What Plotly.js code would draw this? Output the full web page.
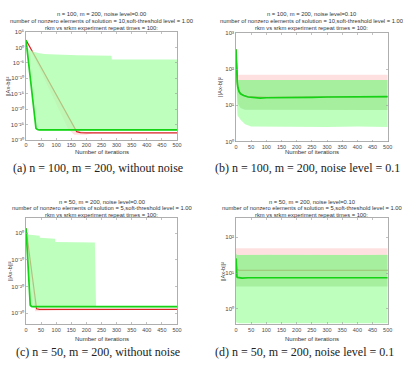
<!DOCTYPE html>
<html>
<head>
<meta charset="utf-8">
<script src="https://cdn.plot.ly/plotly-3.0.1.min.js"></script>
<style>
  html, body { margin: 0; padding: 0; background: #fff; }
  #fig { width: 403px; height: 368px; }
</style>
</head>
<body>
<div id="fig"></div>
<script>
// ---------------- data: mean residual ||Ax-b||^2 with min/max and spread envelopes ----------------
// (a) n = 100, m = 200, noise 0.00
const iterA_srkm = [0, 33, 38, 45, 100, 200, 300, 400, 500];
const valA_srkm  = [2.5e2, 6e-27, 2.5e-27, 1.8e-27, 1.8e-27, 1.7e-27, 1.8e-27, 1.8e-27, 1.8e-27];
const iterA_rkm  = [0, 168, 180, 200, 300, 400, 500];
const valA_rkm   = [2.5e2, 5e-28, 2.5e-28, 2e-28, 2e-28, 2e-28, 2e-28];
const iterA_srkmHi = [0, 3, 8, 15, 25, 40, 60, 100, 170, 283, 284, 500];
const valA_srkmHi  = [3e2, 3e0, 2.5e-1, 1e-1, 4e-2, 1.6e-2, 8e-3, 5e-3, 2.8e-3, 2e-3, 1.3e-4, 1.3e-4];
const iterA_srkmLo = [0, 33, 40, 500];
const valA_srkmLo  = [2e2, 3e-27, 1e-27, 1e-27];
const iterA_rkmHi = [0, 168, 200, 500];
const valA_rkmHi  = [3e2, 1.5e-27, 3e-28, 2.5e-28];
const iterA_rkmLo = [0, 140, 160, 200, 220, 500];
const valA_rkmLo  = [2e2, 3e-27, 5e-29, 5e-29, 1.6e-28, 1.6e-28];

// (b) n = 100, m = 200, noise 0.10
const iterB_srkm = [0, 1, 2, 4, 6, 10, 15, 25, 40, 60, 80, 100, 150, 200, 250, 300, 350, 400, 450, 500];
const valB_srkm  = [355, 158, 89, 44.7, 31.6, 24, 20.9, 18.6, 17, 16.2, 15.8, 16.2, 16.2, 16.6, 16.6, 17, 17, 17, 17, 17.4];
const iterB_rkm  = [0, 2, 5, 10, 20, 40, 100, 200, 300, 400, 500];
const valB_rkm   = [350, 92, 36, 24, 19.5, 17.3, 16.5, 16.9, 17.2, 17.2, 17.5];
const iterB_srkmHi = [0, 1, 3, 5, 10, 20, 50, 100, 200, 300, 400, 500];
const valB_srkmHi  = [400, 160, 71, 52, 50, 50, 50, 50, 50, 50, 50, 50];
const iterB_srkmLo = [0, 1, 3, 5, 15, 30, 50, 100, 200, 300, 400, 500];
const valB_srkmLo  = [316, 79, 10, 5.2, 4.0, 3.0, 2.6, 2.6, 2.5, 2.5, 2.6, 2.5];
const iterB_srkmSdHi = [0, 1, 3, 6, 500];
const valB_srkmSdHi  = [380, 150, 65, 50, 50];
const iterB_srkmSdLo = [0, 1, 3, 6, 15, 30, 500];
const valB_srkmSdLo  = [330, 100, 22, 11, 8.5, 7.5, 7.4];
const iterB_rkmHi = [0, 1, 3, 6, 500];
const valB_rkmHi  = [420, 180, 80, 70, 70];
const iterB_rkmLo = [0, 1, 3, 6, 15, 30, 500];
const valB_rkmLo  = [330, 100, 22, 11, 8.5, 7.5, 7.4];

// (c) n = 50, m = 200, noise 0.00
const iterC_srkm = [0, 14, 18, 25, 500];
const valC_srkm  = [80, 1.3e-27, 4e-28, 3.2e-28, 3.2e-28];
const iterC_rkm  = [0, 35, 45, 500];
const valC_rkm   = [80, 5e-29, 3.2e-29, 3.2e-29];
const iterC_srkmHi = [0, 2, 5, 45, 46, 96, 97, 228, 232, 500];
const valC_srkmHi  = [126, 3.2, 0.32, 0.126, 0.02, 0.01, 5e-4, 3.2e-4, 6.3e-28, 6.3e-28];
const iterC_srkmLo = [0, 14, 18, 500];
const valC_srkmLo  = [80, 6.3e-28, 1.6e-28, 1.6e-28];
const iterC_rkmHi = [0, 35, 45, 500];
const valC_rkmHi  = [100, 8e-29, 4.5e-29, 4.5e-29];
const iterC_rkmLo = [0, 30, 60, 110, 130, 500];
const valC_rkmLo  = [63, 6.3e-30, 8e-30, 1.26e-29, 2.2e-29, 2.2e-29];

// (d) n = 50, m = 200, noise 0.10
const iterD_srkm = [0, 1, 2, 3, 5, 10, 20, 40, 70, 100, 150, 200, 250, 300, 350, 400, 450, 500];
const valD_srkm  = [25.7, 12.6, 8.5, 7.9, 7.6, 7.4, 7.2, 7.4, 7.4, 7.4, 7.2, 7.4, 7.4, 7.4, 7.2, 7.4, 7.4, 7.4];
const iterD_rkm  = [0, 1, 3, 10, 100, 200, 300, 400, 500];
const valD_rkm   = [26, 16, 12.5, 12, 12, 12, 12.2, 12, 12];
const iterD_srkmHi = [0, 1, 3, 100, 200, 300, 400, 500];
const valD_srkmHi  = [36, 33, 32, 32.4, 32, 32.4, 32, 32.4];
const iterD_srkmLo = [0, 1, 3, 10, 500];
const valD_srkmLo  = [0.45, 0.42, 0.41, 0.40, 0.40];
const iterD_srkmSdHi = [0, 1, 3, 500];
const valD_srkmSdHi  = [34, 32.4, 32, 32];
const iterD_srkmSdLo = [0, 500];
const valD_srkmSdLo  = [4.2, 4.2];
const iterD_rkmHi = [0, 500];
const valD_rkmHi  = [49, 49];
const iterD_rkmLo = [0, 500];
const valD_rkmLo  = [4.2, 4.2];

// ---------------- text ----------------
const titlesA = ["n = 100, m = 200, noise level=0.00",
                 "number of nonzero elements of solution = 10,soft-threshold level = 1.00",
                 "rkm vs srkm experiment repeat times = 100:"];
const titlesB = ["n = 100, m = 200, noise level=0.10",
                 "number of nonzero elements of solution = 10,soft-threshold level = 1.00",
                 "rkm vs srkm experiment repeat times = 100:"];
const titlesC = ["n = 50, m = 200, noise level=0.00",
                 "number of nonzero elements of solution = 5,soft-threshold level = 1.00",
                 "rkm vs srkm experiment repeat times = 100:"];
const titlesD = ["n = 50, m = 200, noise level=0.10",
                 "number of nonzero elements of solution = 5,soft-threshold level = 1.00",
                 "rkm vs srkm experiment repeat times = 100:"];
const captions = ["(a) n = 100, m = 200, without noise",
                  "(b) n = 100, m = 200, noise level = 0.1",
                  "(c) n = 50, m = 200, without noise",
                  "(d) n = 50, m = 200, noise level = 0.1"];
const xTitle = "Number of iterations";
const yTitle = "||Ax-b||\u00b2";
const xTicks = [0, 50, 100, 150, 200, 250, 300, 350, 400, 450, 500];
const yExpA = [5, 0, -5, -10, -15, -20, -25, -30];
const yExpB = [0, 1, 2, 3];
const yExpC = [0, -10, -20, -30];
const yExpD = [0, 1, 2];

// power-of-ten label with superscript characters
const SUP = {'0': '\u2070', '1': '\u00b9', '2': '\u00b2', '3': '\u00b3', '4': '\u2074', '5': '\u2075',
             '6': '\u2076', '7': '\u2077', '8': '\u2078', '9': '\u2079', '-': '\u207b'};
const pow10Label = e => '10' + String(e).split('').map(c => SUP[c]).join('');

// ---------------- layout helpers (pixel boxes -> paper fractions) ----------------
const W = 403, H = 368;
const fx = p => p / W;
const fy = p => 1 - p / H;

const panels = [
  {box: [26, 177, 32, 140],    yr: [-30, 5],       exps: yExpA, titles: titlesA, tY: [14, 21, 28],        xtY: 152, ytX: 7.5,  cap: captions[0], capX: 98,  capY: 168,
   d: {s: [iterA_srkm, valA_srkm], r: [iterA_rkm, valA_rkm], sh: [iterA_srkmHi, valA_srkmHi], sl: [iterA_srkmLo, valA_srkmLo], rh: [iterA_rkmHi, valA_rkmHi], rl: [iterA_rkmLo, valA_rkmLo]}},
  {box: [236, 387.7, 33, 141.5], yr: [0, 3],       exps: yExpB, titles: titlesB, tY: [14, 21, 28],        xtY: 152, ytX: 220.7, cap: captions[1], capX: 307.7, capY: 168,
   d: {s: [iterB_srkm, valB_srkm], r: [iterB_rkm, valB_rkm], sh: [iterB_srkmHi, valB_srkmHi], sl: [iterB_srkmLo, valB_srkmLo], rh: [iterB_rkmHi, valB_rkmHi], rl: [iterB_rkmLo, valB_rkmLo],
       qh: [iterB_srkmSdHi, valB_srkmSdHi], ql: [iterB_srkmSdLo, valB_srkmSdLo]}},
  {box: [26, 177, 218.3, 324.3], yr: [-34.1, 5.62], exps: yExpC, titles: titlesC, tY: [201.7, 208.3, 215], xtY: 338.5, ytX: 10, cap: captions[2], capX: 97.5, capY: 352,
   d: {s: [iterC_srkm, valC_srkm], r: [iterC_rkm, valC_rkm], sh: [iterC_srkmHi, valC_srkmHi], sl: [iterC_srkmLo, valC_srkmLo], rh: [iterC_rkmHi, valC_rkmHi], rl: [iterC_rkmLo, valC_rkmLo]}},
  {box: [236, 387.7, 218.3, 324.3], yr: [-0.43, 2.53], exps: yExpD, titles: titlesD, tY: [201.7, 208.3, 215], xtY: 338.5, ytX: 223.3, cap: captions[3], capX: 304, capY: 352,
   d: {s: [iterD_srkm, valD_srkm], r: [iterD_rkm, valD_rkm], sh: [iterD_srkmHi, valD_srkmHi], sl: [iterD_srkmLo, valD_srkmLo], rh: [iterD_rkmHi, valD_rkmHi], rl: [iterD_rkmLo, valD_rkmLo],
       qh: [iterD_srkmSdHi, valD_srkmSdHi], ql: [iterD_srkmSdLo, valD_srkmSdLo]}}
];

const RED_BAND = 'rgba(255,0,0,0.12)';
const GREEN_BAND = 'rgba(165,255,165,0.72)';
const GREEN_INNER = 'rgba(40,200,40,0.16)';
const RED_LINE = 'rgb(215,35,35)';
const GREEN_LINE = 'rgb(20,210,20)';
const AX_COL = '#9a9a9a';
const TXT_COL = '#4a4a4a';
const SANS = 'Liberation Sans, Arial, sans-serif';

// closed polygon between an upper and a lower envelope
function envelope(hi, lo) {
  return {
    x: hi[0].concat(lo[0].slice().reverse()),
    y: hi[1].concat(lo[1].slice().reverse())
  };
}

const traces = [];
const layout = {
  width: W, height: H,
  margin: {l: 0, r: 0, t: 0, b: 0},
  paper_bgcolor: '#fff', plot_bgcolor: 'rgba(0,0,0,0)',
  showlegend: false,
  annotations: []
};

function band(env, color, xa, ya) {
  return {x: env.x, y: env.y, xaxis: xa, yaxis: ya, type: 'scatter', mode: 'lines',
          fill: 'toself', fillcolor: color, line: {width: 0}, hoverinfo: 'skip'};
}

panels.forEach((p, i) => {
  const k = i === 0 ? '' : String(i + 1);
  const xa = 'x' + k, ya = 'y' + k;
  const [x0, x1, y0, y1] = p.box;

  // rkm envelope and mean, then the srkm envelopes laid over them, srkm mean on top
  traces.push(band(envelope(p.d.rh, p.d.rl), RED_BAND, xa, ya));
  traces.push({x: p.d.r[0], y: p.d.r[1], xaxis: xa, yaxis: ya, type: 'scatter', mode: 'lines',
               line: {color: RED_LINE, width: 1.2}, name: 'rkm'});
  traces.push(band(envelope(p.d.sh, p.d.sl), GREEN_BAND, xa, ya));
  if (p.d.qh) traces.push(band(envelope(p.d.qh, p.d.ql), GREEN_INNER, xa, ya));
  traces.push({x: p.d.s[0], y: p.d.s[1], xaxis: xa, yaxis: ya, type: 'scatter', mode: 'lines',
               line: {color: GREEN_LINE, width: 1.7}, name: 'srkm'});

  layout['xaxis' + k] = {
    domain: [fx(x0), fx(x1)], anchor: ya, range: [0, 500],
    tickvals: xTicks, ticktext: xTicks.map(String),
    ticks: 'inside', ticklen: 2, tickwidth: 0.6, tickcolor: AX_COL,
    showline: true, linecolor: AX_COL, linewidth: 0.8, mirror: 'allticks',
    showgrid: false, zeroline: false,
    tickfont: {family: SANS, size: 5.5, color: TXT_COL}
  };
  layout['yaxis' + k] = {
    domain: [fy(y1), fy(y0)], anchor: xa, type: 'log', range: p.yr,
    tickvals: p.exps.map(e => Math.pow(10, e)),
    ticktext: p.exps.map(pow10Label),
    ticks: 'inside', ticklen: 2, tickwidth: 0.6, tickcolor: AX_COL,
    showline: true, linecolor: AX_COL, linewidth: 0.8, mirror: 'allticks',
    showgrid: false, zeroline: false,
    tickfont: {family: SANS, size: 6, color: TXT_COL}
  };

  const cx = fx((x0 + x1) / 2);
  p.titles.forEach((t, j) => {
    layout.annotations.push({text: t, xref: 'paper', yref: 'paper', x: cx, y: fy(p.tY[j]),
      xanchor: 'center', yanchor: 'middle', showarrow: false,
      font: {family: SANS, size: 5.8, color: '#333'}});
  });
  layout.annotations.push({text: xTitle, xref: 'paper', yref: 'paper', x: cx, y: fy(p.xtY),
    xanchor: 'center', yanchor: 'middle', showarrow: false,
    font: {family: SANS, size: 6, color: '#333'}});
  layout.annotations.push({text: yTitle, xref: 'paper', yref: 'paper', x: fx(p.ytX), y: fy((y0 + y1) / 2),
    xanchor: 'center', yanchor: 'middle', showarrow: false, textangle: -90,
    font: {family: SANS, size: 5.8, color: '#333'}});
  layout.annotations.push({text: p.cap, xref: 'paper', yref: 'paper', x: fx(p.capX), y: fy(p.capY),
    xanchor: 'center', yanchor: 'middle', showarrow: false,
    font: {family: 'Liberation Serif, Times New Roman, serif', size: 12, color: '#222'}});
});

Plotly.newPlot('fig', traces, layout, {staticPlot: true, displayModeBar: false});
</script>
</body>
</html>
